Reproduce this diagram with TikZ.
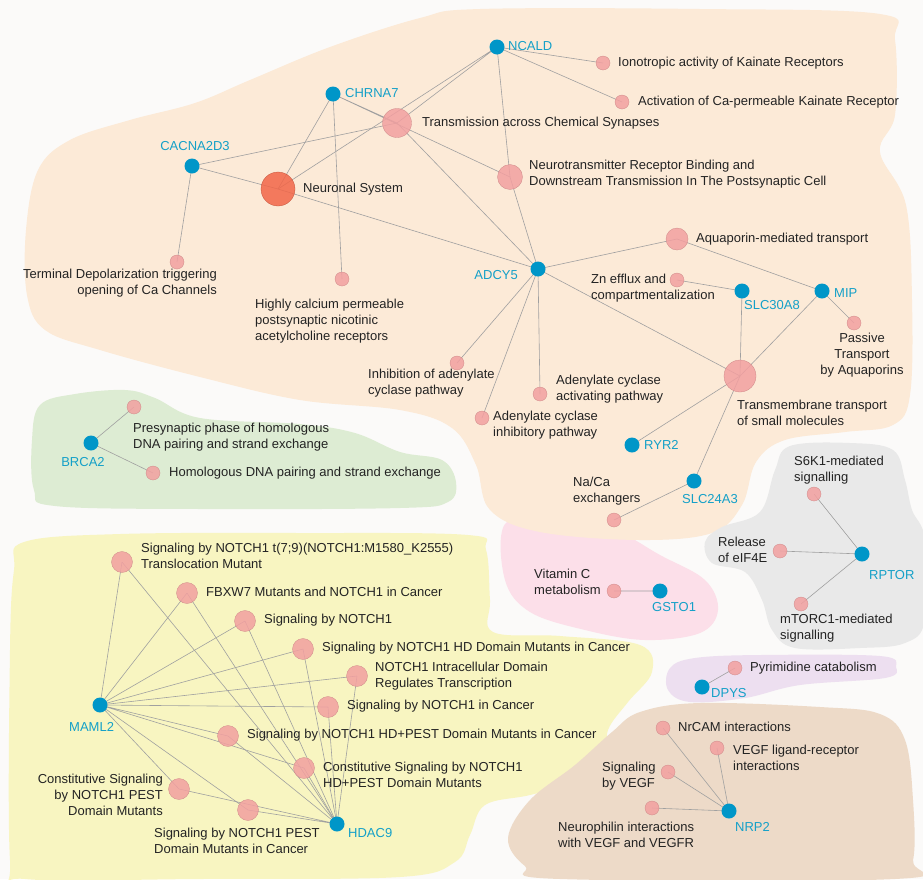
\documentclass[tikz,border=0pt]{standalone}
\usepackage{fontspec}
\setmainfont{Liberation Sans}
\pgfdeclarelayer{blobs}
\pgfdeclarelayer{links}
\pgfsetlayers{blobs,links,main}

\begin{document}
\begin{tikzpicture}[x=1pt, y=-1pt,
    gene/.style={circle, fill=genecolor, minimum size=15pt, inner sep=0pt},
    pathway/.style={circle, fill=pathcolor, draw=pathcolor!85!black, line width=0.3pt, fill opacity=0.85, minimum size=14pt, inner sep=0pt},
    midpath/.style={pathway, minimum size=21pt},
    genelabel/.style={text=labelcolor, inner sep=0pt, font=\fontsize{13}{16}\selectfont},
    pathlabel/.style={text=inkcolor, inner sep=0pt, align=left, font=\fontsize{13}{16}\selectfont},
    link/.style={draw=linecolor, line width=0.6pt}]

    % Define colors
    \definecolor{genecolor}{RGB}{0, 150, 200}
    \definecolor{labelcolor}{RGB}{20, 160, 200}
    \definecolor{pathcolor}{RGB}{242, 160, 160}
    \definecolor{neurocolor}{RGB}{242, 102, 72}
    \definecolor{inkcolor}{RGB}{35, 35, 35}
    \definecolor{linecolor}{RGB}{160, 160, 160}
    \definecolor{bgcolor}{RGB}{251, 250, 249}
    \definecolor{peach}{RGB}{252, 234, 215}
    \definecolor{leaf}{RGB}{221, 236, 211}
    \definecolor{lemon}{RGB}{248, 245, 193}
    \definecolor{ash}{RGB}{233, 233, 233}
    \definecolor{blush}{RGB}{252, 223, 233}
    \definecolor{lilac}{RGB}{237, 223, 240}
    \definecolor{sand}{RGB}{237, 218, 200}

    \useasboundingbox (0,0) rectangle (923,879);

    % Fill the cluster areas
    \begin{pgfonlayer}{blobs}
    \fill[bgcolor] (0,0) rectangle (923,879);
    \fill[blush] plot[smooth cycle, tension=0.6] coordinates {
        (505,524) (550,518) (610,528) (660,555) (705,580) (718,610) (700,633)
        (645,640) (585,630) (530,612) (505,580)};
    \fill[peach] plot[smooth cycle, tension=0.6] coordinates {
        (26,230) (27,295) (45,330) (100,350) (200,377) (300,400) (400,410)
        (452,428) (476,465) (490,510) (540,532) (640,540) (712,533) (742,505)
        (756,462) (785,440) (845,432) (893,425) (910,395) (912,300) (906,205)
        (880,152) (895,115) (895,40) (880,14) (700,9) (480,9) (420,18)
        (330,47) (250,80) (195,103) (130,120) (70,140) (38,170)};
    \fill[leaf] plot[smooth cycle, tension=0.6] coordinates {
        (40,405) (75,394) (125,390) (155,398) (200,418) (300,424) (355,433)
        (400,452) (442,460) (456,482) (448,502) (400,508) (200,509) (55,506)
        (34,490) (32,440)};
    \fill[lemon] plot[smooth cycle, tension=0.6] coordinates {
        (24,542) (120,534) (300,533) (468,535) (486,550) (490,600) (493,632)
        (560,636) (640,645) (652,672) (628,702) (608,730) (606,760) (585,780)
        (530,795) (485,805) (470,835) (455,862) (400,877) (200,879) (25,879)
        (10,860) (10,650) (14,570)};
    \fill[ash] plot[smooth cycle, tension=0.6] coordinates {
        (790,446) (850,443) (893,450) (905,480) (912,510) (925,540) (925,620)
        (905,643) (860,648) (795,648) (772,630) (762,600) (745,572) (712,563)
        (705,542) (722,527) (760,512) (775,470)};
    \fill[lilac] plot[smooth cycle, tension=0.6] coordinates {
        (670,668) (695,658) (760,655) (880,656) (896,667) (885,678) (800,685)
        (745,698) (690,702) (668,690)};
    \fill[sand] plot[smooth cycle, tension=0.6] coordinates {
        (640,712) (700,703) (820,707) (880,714) (905,740) (913,800) (913,860)
        (895,879) (560,879) (525,866) (508,838) (530,800) (575,765) (612,732)};
    \end{pgfonlayer}

    % Genes
    \node[gene] (cacna) at (192,166) {};
    \node[gene] (chrna) at (333,94) {};
    \node[gene] (ncald) at (497,47) {};
    \node[gene] (adcy) at (538,269) {};
    \node[gene] (slcthirty) at (742,291) {};
    \node[gene] (mip) at (822,291) {};
    \node[gene] (ryr) at (632,445) {};
    \node[gene] (slctwenty) at (694,481) {};
    \node[gene] (brca) at (91,443) {};
    \node[gene] (rptor) at (862,554) {};
    \node[gene] (gsto) at (660,591) {};
    \node[gene] (dpys) at (702,687) {};
    \node[gene] (nrp) at (729,811) {};
    \node[gene] (maml) at (100,705) {};
    \node[gene] (hdac) at (337,824) {};

    % Pathways of the neuronal cluster
    \node[pathway, fill=neurocolor, draw=neurocolor!80!black, minimum size=34pt] (neuro) at (278,189) {};
    \node[pathway, minimum size=29pt] (trans) at (397,123) {};
    \node[pathway, minimum size=25pt] (neurotr) at (510,177) {};
    \node[pathway, minimum size=32pt] (transm) at (740,376) {};
    \node[pathway, minimum size=22pt] (aquap) at (677,239) {};
    \node[pathway] (ionot) at (603,63) {};
    \node[pathway] (activ) at (622,102) {};
    \node[pathway] (termin) at (177,262) {};
    \node[pathway] (highly) at (342,279) {};
    \node[pathway] (znefl) at (677,280) {};
    \node[pathway] (passive) at (854,323) {};
    \node[pathway] (inhib) at (457,363) {};
    \node[pathway] (adact) at (540,394) {};
    \node[pathway] (adinh) at (482,418) {};
    \node[pathway] (naca) at (614,520) {};

    % Pathways of the small clusters
    \node[pathway] (presyn) at (134,407) {};
    \node[pathway] (homol) at (153,473) {};
    \node[pathway] (sixk) at (814,494) {};
    \node[pathway] (releas) at (780,551) {};
    \node[pathway] (mtorc) at (801,604) {};
    \node[pathway] (vitc) at (614,591) {};
    \node[pathway] (pyrim) at (735,668) {};
    \node[pathway] (nrcam) at (663,728) {};
    \node[pathway] (vegfl) at (717,748) {};
    \node[pathway] (sigvegf) at (668,772) {};
    \node[pathway] (neuroph) at (652,808) {};

    % Pathways of the NOTCH cluster
    \node[midpath] (na) at (122,562) {};
    \node[midpath] (nb) at (187,593) {};
    \node[midpath] (nc) at (245,621) {};
    \node[midpath] (nd) at (303,649) {};
    \node[midpath] (ne) at (357,676) {};
    \node[midpath] (nf) at (328,707) {};
    \node[midpath] (ng) at (228,736) {};
    \node[midpath] (nh) at (304,768) {};
    \node[midpath] (ni) at (179,789) {};
    \node[midpath] (nj) at (248,810) {};

    % Gene labels
    \node[genelabel] (cacna-l) at (195,146) {CACNA2D3};
    \node[genelabel, anchor=west] (chrna-l) at (345,93) {CHRNA7};
    \node[genelabel, anchor=west] (ncald-l) at (508,46) {NCALD};
    \node[genelabel, anchor=east] (adcy-l) at (518,275) {ADCY5};
    \node[genelabel, anchor=west] (slcthirty-l) at (744,305) {SLC30A8};
    \node[genelabel, anchor=west] (mip-l) at (834,293) {MIP};
    \node[genelabel, anchor=west] (ryr-l) at (644,445) {RYR2};
    \node[genelabel, anchor=west] (slctwenty-l) at (682,499) {SLC24A3};
    \node[genelabel] (brca-l) at (83,462) {BRCA2};
    \node[genelabel, anchor=west] (rptor-l) at (869,575) {RPTOR};
    \node[genelabel, anchor=west] (gsto-l) at (652,607) {GSTO1};
    \node[genelabel, anchor=west] (dpys-l) at (711,693) {DPYS};
    \node[genelabel, anchor=west] (nrp-l) at (735,827) {NRP2};
    \node[genelabel, anchor=west] (maml-l) at (69,727) {MAML2};
    \node[genelabel, anchor=west] (hdac-l) at (348,833) {HDAC9};

    % Pathway labels
    \node[pathlabel, anchor=west] (neuro-l) at (303,189) {Neuronal System};
    \node[pathlabel, anchor=west] (trans-l) at (422,123) {Transmission across Chemical Synapses};
    \node[pathlabel, anchor=west] (neurotr-l) at (529,174) {Neurotransmitter Receptor Binding and\\Downstream Transmission In The Postsynaptic Cell};
    \node[pathlabel, anchor=west] (ionot-l) at (618,63) {Ionotropic activity of Kainate Receptors};
    \node[pathlabel, anchor=west] (activ-l) at (638,102) {Activation of Ca-permeable Kainate Receptor};
    \node[pathlabel, anchor=east, align=right] (termin-l) at (217,283) {Terminal Depolarization triggering\\opening of Ca Channels};
    \node[pathlabel, anchor=west] (highly-l) at (255,321) {Highly calcium permeable\\postsynaptic nicotinic\\acetylcholine receptors};
    \node[pathlabel, anchor=west] (aquap-l) at (696,239) {Aquaporin-mediated transport};
    \node[pathlabel, anchor=west] (znefl-l) at (591,288) {Zn efflux and\\compartmentalization};
    \node[pathlabel, align=center] (passive-l) at (862,355) {Passive\\Transport\\by Aquaporins};
    \node[pathlabel, anchor=west] (transm-l) at (737,413) {Transmembrane transport\\of small molecules};
    \node[pathlabel, anchor=west] (inhib-l) at (368,383) {Inhibition of adenylate\\cyclase pathway};
    \node[pathlabel, anchor=west] (adact-l) at (556,389) {Adenylate cyclase\\activating pathway};
    \node[pathlabel, anchor=west] (adinh-l) at (493,425) {Adenylate cyclase\\inhibitory pathway};
    \node[pathlabel, anchor=west] (naca-l) at (573,491) {Na/Ca\\exchangers};
    \node[pathlabel, anchor=west] (presyn-l) at (133,437) {Presynaptic phase of homologous\\DNA pairing and strand exchange};
    \node[pathlabel, anchor=west] (homol-l) at (169,473) {Homologous DNA pairing and strand exchange};
    \node[pathlabel, anchor=west] (sixk-l) at (794,470) {S6K1-mediated\\signalling};
    \node[pathlabel, anchor=west] (releas-l) at (718,550) {Release\\of eIF4E};
    \node[pathlabel, anchor=west] (mtorc-l) at (780,628) {mTORC1-mediated\\signalling};
    \node[pathlabel, anchor=west] (vitc-l) at (534,582) {Vitamin C\\metabolism};
    \node[pathlabel, anchor=west] (pyrim-l) at (750,668) {Pyrimidine catabolism};
    \node[pathlabel, anchor=west] (nrcam-l) at (678,727) {NrCAM interactions};
    \node[pathlabel, anchor=west] (vegfl-l) at (733,758) {VEGF ligand-receptor\\interactions};
    \node[pathlabel, anchor=west] (sigvegf-l) at (602,776) {Signaling\\by VEGF};
    \node[pathlabel, anchor=west] (neuroph-l) at (558,835) {Neurophilin interactions\\with VEGF and VEGFR};
    \node[pathlabel, anchor=west] (na-l) at (141,556) {Signaling by NOTCH1 t(7;9)(NOTCH1:M1580\_K2555)\\Translocation Mutant};
    \node[pathlabel, anchor=west] (nb-l) at (206,592) {FBXW7 Mutants and NOTCH1 in Cancer};
    \node[pathlabel, anchor=west] (nc-l) at (264,620) {Signaling by NOTCH1};
    \node[pathlabel, anchor=west] (nd-l) at (322,648) {Signaling by NOTCH1 HD Domain Mutants in Cancer};
    \node[pathlabel, anchor=west] (ne-l) at (375,676) {NOTCH1 Intracellular Domain\\Regulates Transcription};
    \node[pathlabel, anchor=west] (nf-l) at (347,706) {Signaling by NOTCH1 in Cancer};
    \node[pathlabel, anchor=west] (ng-l) at (247,735) {Signaling by NOTCH1 HD+PEST Domain Mutants in Cancer};
    \node[pathlabel, anchor=west] (nh-l) at (323,775) {Constitutive Signaling by NOTCH1\\HD+PEST Domain Mutants};
    \node[pathlabel, anchor=east, align=right] (ni-l) at (163,795) {Constitutive Signaling\\by NOTCH1 PEST\\Domain Mutants};
    \node[pathlabel, anchor=west] (nj-l) at (154,841) {Signaling by NOTCH1 PEST\\Domain Mutants in Cancer};

    % Draw the links
    \begin{pgfonlayer}{links}
    \draw[link] (cacna.center) -- (neuro.center) (cacna.center) -- (trans.center) (cacna.center) -- (termin.center);
    \draw[link] (chrna.center) -- (neuro.center) (chrna.center) -- (trans.center) (chrna.center) -- (neurotr.center) (chrna.center) -- (highly.center);
    \draw[link] (ncald.center) -- (neuro.center) (ncald.center) -- (trans.center) (ncald.center) -- (neurotr.center) (ncald.center) -- (ionot.center) (ncald.center) -- (activ.center);
    \draw[link] (adcy.center) -- (neuro.center) (adcy.center) -- (trans.center) (adcy.center) -- (neurotr.center) (adcy.center) -- (aquap.center) (adcy.center) -- (transm.center);
    \draw[link] (adcy.center) -- (inhib.center) (adcy.center) -- (adact.center) (adcy.center) -- (adinh.center);
    \draw[link] (slcthirty.center) -- (znefl.center) (slcthirty.center) -- (transm.center);
    \draw[link] (mip.center) -- (aquap.center) (mip.center) -- (transm.center) (mip.center) -- (passive.center);
    \draw[link] (ryr.center) -- (transm.center) (slctwenty.center) -- (transm.center) (slctwenty.center) -- (naca.center);
    \draw[link] (brca.center) -- (presyn.center) (brca.center) -- (homol.center);
    \draw[link] (rptor.center) -- (sixk.center) (rptor.center) -- (releas.center) (rptor.center) -- (mtorc.center);
    \draw[link] (gsto.center) -- (vitc.center) (dpys.center) -- (pyrim.center);
    \draw[link] (nrp.center) -- (nrcam.center) (nrp.center) -- (vegfl.center) (nrp.center) -- (sigvegf.center) (nrp.center) -- (neuroph.center);
    \draw[link] (maml.center) -- (na.center) (maml.center) -- (nb.center) (maml.center) -- (nc.center) (maml.center) -- (nd.center) (maml.center) -- (ne.center);
    \draw[link] (maml.center) -- (nf.center) (maml.center) -- (ng.center) (maml.center) -- (nh.center) (maml.center) -- (ni.center) (maml.center) -- (nj.center);
    \draw[link] (hdac.center) -- (na.center) (hdac.center) -- (nb.center) (hdac.center) -- (nc.center) (hdac.center) -- (nd.center) (hdac.center) -- (ne.center);
    \draw[link] (hdac.center) -- (nf.center) (hdac.center) -- (ng.center) (hdac.center) -- (nh.center) (hdac.center) -- (ni.center) (hdac.center) -- (nj.center);
    \end{pgfonlayer}

\end{tikzpicture}
\end{document}
